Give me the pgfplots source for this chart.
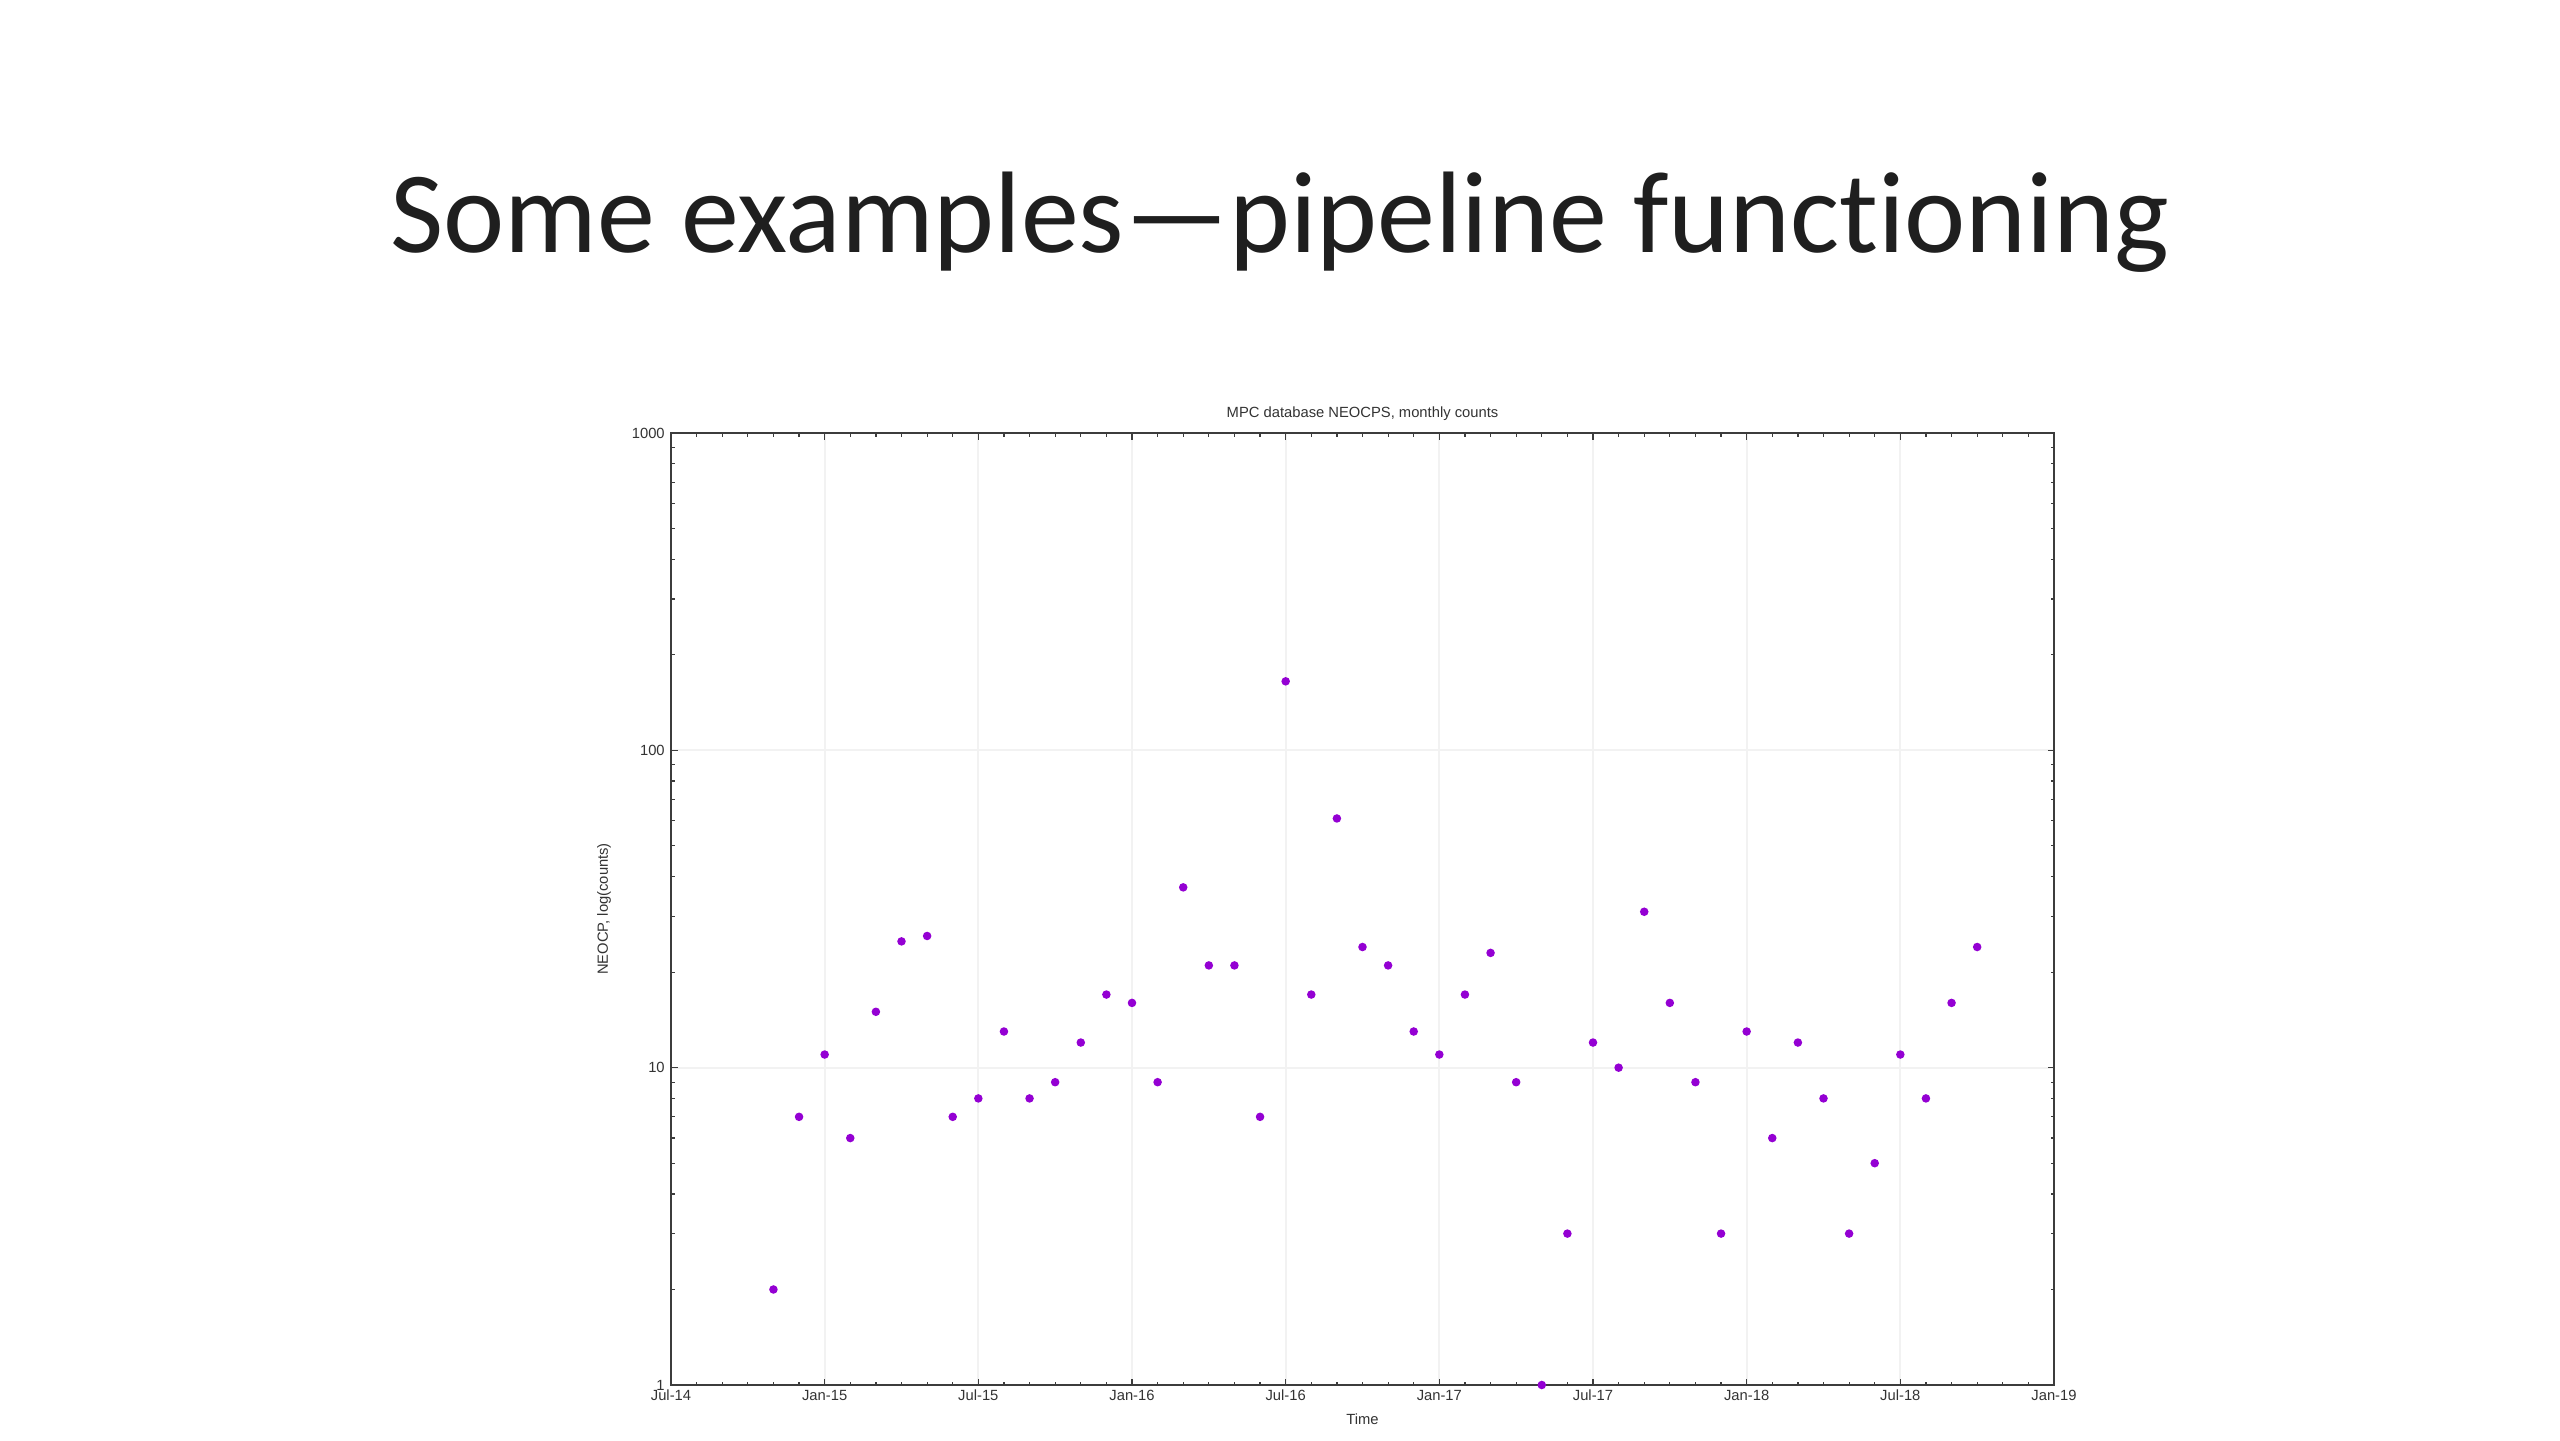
\documentclass[border=0pt]{standalone}
\usepackage{pgfplots}
\pgfplotsset{compat=1.18}
\usepackage{fontspec}
\setmainfont{Liberation Sans}
\newfontfamily\slidefont[Ligatures=NoCommon]{Carlito}
\definecolor{gpviolet}{HTML}{9400D3}
\definecolor{gpaxis}{HTML}{3C3C3C}

\begin{document}
\begin{tikzpicture}
\fill[white, use as bounding box] (0,0) rectangle (25.6,14.4);
% slide title
\node[anchor=base, font=\slidefont\fontsize{33}{38}\selectfont, text=black!88]
  at (12.8,11.87) {Some examples—pipeline functioning};

\begin{axis}[
    at={(6.71cm,0.55cm)}, anchor=south west,
    scale only axis,
    width=13.83cm, height=9.52cm,
    clip=false,
    ymode=log,
    xmin=0, xmax=54,
    ymin=1, ymax=1000,
    xtick={0,6,...,54},
    xticklabels={Jul-14,Jan-15,Jul-15,Jan-16,Jul-16,Jan-17,Jul-17,Jan-18,Jul-18,Jan-19},
    minor xtick={1,...,53},
    ytick={1,10,100,1000},
    yticklabels={1,10,100,1000},
    minor ytick={2,3,4,5,6,7,8,9,20,30,40,50,60,70,80,90,200,300,400,500,600,700,800,900},
    tick align=inside,
    major tick length=0.065cm,
    minor tick length=0.035cm,
    every tick/.style={gpaxis, line width=0.35pt},
    axis line style={gpaxis, line width=0.8pt},
    grid=major,
    major grid style={black!5, line width=0.5pt},
    tick label style={font=\fontsize{4.2}{5}\selectfont, text=black!80},
    xticklabel style={inner sep=1.2pt},
    yticklabel style={inner sep=1.6pt},
    title={MPC database NEOCPS, monthly counts},
    every axis title/.style={at={(rel axis cs:0.5,1)}, anchor=base, yshift=4.4pt,
        font=\fontsize{4.2}{5}\selectfont, text=black!80},
    xlabel={Time},
    every axis x label/.style={at={(rel axis cs:0.5,0)}, anchor=center, yshift=-0.343cm,
        font=\fontsize{4.2}{5}\selectfont, text=black!80},
    ylabel={NEOCP, log(counts)},
    every axis y label/.style={at={(rel axis cs:-0.0484,0.5)}, anchor=center, rotate=90,
        font=\fontsize{4.2}{5}\selectfont, text=black!80},
]
% monthly counts, x = months since Jul-14
\addplot[only marks, mark=*, mark size=1.0pt, color=gpviolet] coordinates {
    (4,2) (5,7) (6,11) (7,6) (8,15) (9,25) (10,26) (11,7) (12,8) (13,13)
    (14,8) (15,9) (16,12) (17,17) (18,16) (19,9) (20,37) (21,21) (22,21) (23,7)
    (24,165) (25,17) (26,61) (27,24) (28,21) (29,13) (30,11) (31,17) (32,23) (33,9)
    (34,1) (35,3) (36,12) (37,10) (38,31) (39,16) (40,9) (41,3) (42,13) (43,6)
    (44,12) (45,8) (46,3) (47,5) (48,11) (49,8) (50,16) (51,24)
};
\end{axis}
\end{tikzpicture}
\end{document}
